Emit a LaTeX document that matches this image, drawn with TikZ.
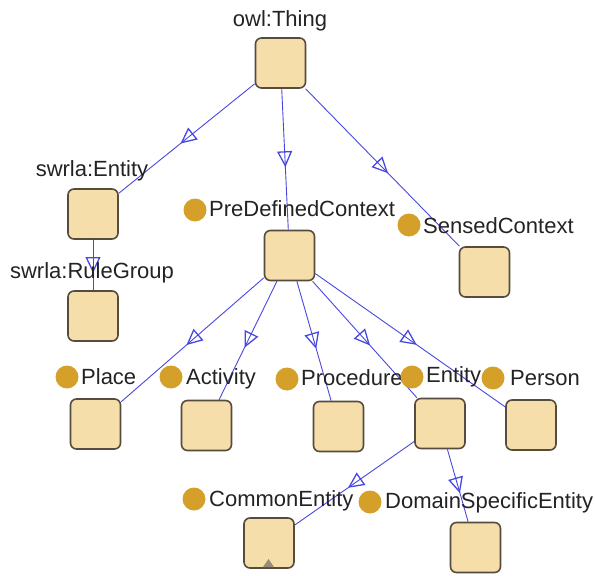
\documentclass[tikz,border=0pt]{standalone}
\usepackage{fontspec}
\setmainfont{Liberation Sans}
\usetikzlibrary{arrows.meta,decorations.markings}

\definecolor{boxfill}{RGB}{246,222,170}
\definecolor{boxline}{RGB}{85,75,62}
\definecolor{dotcol}{RGB}{212,160,42}
\definecolor{edgecol}{RGB}{72,72,225}
\definecolor{txtcol}{RGB}{35,35,35}
\definecolor{markgray}{RGB}{150,140,120}

\tikzset{
  cls/.style={draw=boxline, fill=boxfill, line width=1.6pt, rounded corners=6pt,
    minimum width=50pt, minimum height=50pt, inner sep=0pt},
  lbl/.style={text=txtcol, font=\fontsize{22}{26}\selectfont, inner sep=0pt},
  dotmark/.style={circle, fill=dotcol, minimum size=23pt, inner sep=0pt},
  isa/.style={draw=edgecol, line width=0.9pt, postaction=decorate,
    decoration={markings, mark=at position 0.5 with
      {\arrow[xshift=8pt, line width=1.3pt]{Triangle[open, length=16pt, width=15pt]}}}},
}

\begin{document}
\begin{tikzpicture}[x=1pt, y=-1pt]
  \useasboundingbox (0,0) rectangle (595,576);

  % class boxes
  \node[cls] (thing)     at (280.5,63)  {};
  \node[cls] (swent)     at (93,214)    {};
  \node[cls] (rule)      at (93,316)    {};
  \node[cls] (pdc)       at (289.5,255.5) {};
  \node[cls] (sensed)    at (484.5,272) {};
  \node[cls] (place)     at (95.5,424)  {};
  \node[cls] (activity)  at (206.5,425.5) {};
  \node[cls] (procedure) at (338.5,426.5) {};
  \node[cls] (entity)    at (440,423.5) {};
  \node[cls] (person)    at (531,425)   {};
  \node[cls] (common)    at (269,543)   {};
  \node[cls] (domain)    at (475.5,547.5) {};

  % subclass edges
  \draw[isa] (thing) -- (swent);
  \draw[isa] (thing) -- (pdc);
  \draw[isa] (thing) -- (sensed);
  \draw[isa] (swent) -- (rule);
  \draw[isa] (pdc) -- (place);
  \draw[isa] (pdc) -- (activity);
  \draw[isa] (pdc) -- (procedure);
  \draw[isa] (pdc) -- (entity);
  \draw[isa] (pdc) -- (person);
  \draw[isa] (entity) -- (common);
  \draw[isa] (entity) -- (domain);

  % expand marker
  \fill[markgray] (263,567) -- (268.5,559) -- (274,567) -- cycle;

  % labels without instance dot
  \node[lbl, anchor=base] (thinglbl) at (280,26)  {owl:Thing};
  \node[lbl, anchor=base] (swentlbl) at (92,176)  {swrla:Entity};
  \node[lbl, anchor=base] (rulelbl)  at (92,278)  {swrla:RuleGroup};

  % labels with instance dot
  \node[dotmark] (pdcdot) at (195,210) {};
  \node[lbl, anchor=base west] (pdclbl) at (209,216) {PreDefinedContext};
  \node[dotmark] (senseddot) at (409,225) {};
  \node[lbl, anchor=base west] (sensedlbl) at (423,233) {SensedContext};
  \node[dotmark] (placedot) at (67,377) {};
  \node[lbl, anchor=base west] (placelbl) at (81,384) {Place};
  \node[dotmark] (activitydot) at (171,377) {};
  \node[lbl, anchor=base west] (activitylbl) at (186,384) {Activity};
  \node[dotmark] (proceduredot) at (287,379) {};
  \node[lbl, anchor=base west] (procedurelbl) at (301,385) {Procedure};
  \node[dotmark] (entitydot) at (412,377) {};
  \node[lbl, anchor=base west] (entitylbl) at (426,382) {Entity};
  \node[dotmark] (persondot) at (493,378) {};
  \node[lbl, anchor=base west] (personlbl) at (510,385) {Person};
  \node[dotmark] (commondot) at (194,499) {};
  \node[lbl, anchor=base west] (commonlbl) at (209,506) {CommonEntity};
  \node[dotmark] (domaindot) at (370,502) {};
  \node[lbl, anchor=base west] (domainlbl) at (385,508) {DomainSpecificEntity};
\end{tikzpicture}
\end{document}
